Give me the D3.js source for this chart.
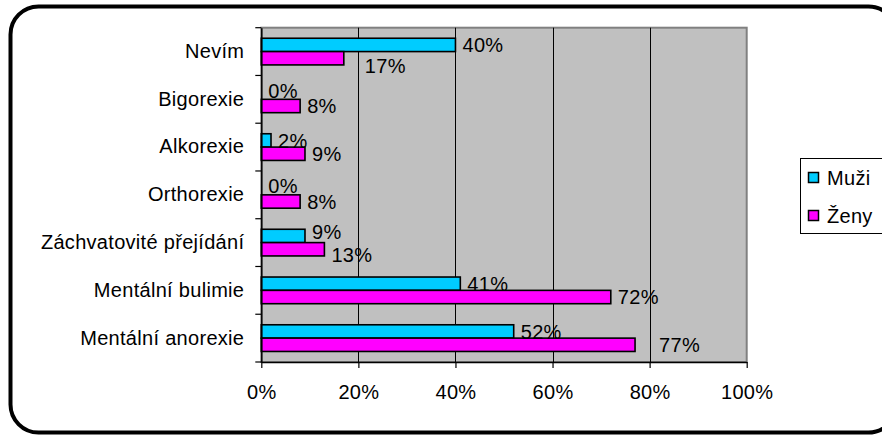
<!DOCTYPE html>
<html>
<head>
<meta charset="utf-8">
<script src="https://cdn.jsdelivr.net/npm/d3@7"></script>
<style>
  html, body { margin: 0; padding: 0; background: #fff; }
  svg { display: block; font-family: "Liberation Sans", Arial, sans-serif; }
</style>
</head>
<body>
<svg id="chart" width="882" height="436"></svg>
<script>
// Categories, top to bottom
const categories = [
  "Nevím",
  "Bigorexie",
  "Alkorexie",
  "Orthorexie",
  "Záchvatovité přejídání",
  "Mentální bulimie",
  "Mentální anorexie"
];
const seriesNames = ["Muži", "Ženy"];
const muzi = [40, 0, 2, 0, 9, 41, 52];
const zeny = [17, 8, 9, 8, 13, 72, 77];
const xTicks = [0, 20, 40, 60, 80, 100];

const colors = { "Muži": "#00CCFF", "Ženy": "#FF00FF" };
const seriesValues = { "Muži": muzi, "Ženy": zeny };

// Small label nudges (dx, dy) where labels sit off the default spot
const labelNudge = {
  "Nevím|Ženy": [14, 8],
  "Bigorexie|Muži": [0, -2],
  "Orthorexie|Muži": [0, -2],
  "Záchvatovité přejídání|Muži": [0, -4],
  "Záchvatovité přejídání|Ženy": [0, 6],
  "Mentální anorexie|Ženy": [17, 0]
};

const svg = d3.select("#chart");
const fontSize = 20;
const letterSp = 0.3;

// Outer rounded frame (extends past the right edge)
svg.append("rect")
  .attr("x", 10.5).attr("y", 6.5)
  .attr("width", 886).attr("height", 426)
  .attr("rx", 28).attr("ry", 28)
  .attr("fill", "#fff")
  .attr("stroke", "#000")
  .attr("stroke-width", 4);

const plot = { left: 261.3, right: 746.7, top: 27.7, bottom: 362 };

const x = d3.scaleLinear().domain([0, 100]).range([plot.left, plot.right]);
const y = d3.scaleBand().domain(categories).range([plot.top, plot.bottom]).padding(0);
const ySub = d3.scaleBand().domain(seriesNames).range([0, y.bandwidth()])
  .paddingInner(0).paddingOuter(0.79);

// Plot area background
svg.append("rect")
  .attr("x", plot.left).attr("y", plot.top)
  .attr("width", plot.right - plot.left).attr("height", plot.bottom - plot.top)
  .attr("fill", "#C0C0C0")
  .attr("stroke", "#808080")
  .attr("stroke-width", 2);

// Vertical gridlines
svg.append("g")
  .selectAll("line")
  .data(xTicks.filter(t => t > 0 && t < 100))
  .join("line")
  .attr("x1", d => Math.round(x(d)) + 0.5).attr("x2", d => Math.round(x(d)) + 0.5)
  .attr("y1", plot.top).attr("y2", plot.bottom)
  .attr("stroke", "#000").attr("stroke-width", 1);

// Bars
const rows = [];
categories.forEach((c, i) => {
  seriesNames.forEach(s => rows.push({ cat: c, series: s, value: seriesValues[s][i] }));
});

svg.append("g")
  .selectAll("rect")
  .data(rows.filter(d => d.value > 0))
  .join("rect")
  .attr("x", x(0))
  .attr("y", d => y(d.cat) + ySub(d.series))
  .attr("width", d => x(d.value) - x(0))
  .attr("height", ySub.bandwidth())
  .attr("fill", d => colors[d.series])
  .attr("stroke", "#000")
  .attr("stroke-width", 1.6);

// Value labels
svg.append("g")
  .selectAll("text")
  .data(rows)
  .join("text")
  .attr("x", d => x(d.value) + 7 + (labelNudge[d.cat + "|" + d.series] || [0, 0])[0])
  .attr("y", d => y(d.cat) + ySub(d.series) + ySub.bandwidth() / 2
                 + (labelNudge[d.cat + "|" + d.series] || [0, 0])[1])
  .attr("dy", "0.36em")
  .attr("font-size", fontSize)
  .attr("letter-spacing", letterSp)
  .attr("fill", "#000")
  .text(d => d.value + "%");

// Bottom axis
const xAxis = d3.axisBottom(x)
  .tickValues(xTicks)
  .tickFormat(d => d + "%")
  .tickSizeInner(6).tickSizeOuter(0)
  .tickPadding(17);
const gx = svg.append("g")
  .attr("transform", `translate(0,${plot.bottom})`)
  .call(xAxis);
gx.select(".domain").attr("stroke", "#000").attr("stroke-width", 1.5);
gx.selectAll(".tick line").attr("stroke", "#000").attr("stroke-width", 1.2);
gx.selectAll(".tick text")
  .attr("font-size", fontSize)
  .attr("letter-spacing", letterSp)
  .attr("font-family", "Liberation Sans, Arial, sans-serif")
  .attr("fill", "#000");

// Left axis: labels at band centres, ticks on band boundaries
const yAxis = d3.axisLeft(y).tickSize(0).tickPadding(17);
const gy = svg.append("g")
  .attr("transform", `translate(${plot.left},0)`)
  .call(yAxis);
gy.select(".domain").attr("stroke", "#000").attr("stroke-width", 1.5);
gy.selectAll(".tick text")
  .attr("font-size", fontSize)
  .attr("letter-spacing", letterSp)
  .attr("font-family", "Liberation Sans, Arial, sans-serif")
  .attr("fill", "#000");

const boundaries = categories.map(c => y(c)).concat([y.range()[1]]);
svg.append("g")
  .selectAll("line")
  .data(boundaries)
  .join("line")
  .attr("x1", plot.left - 6).attr("x2", plot.left)
  .attr("y1", d => d).attr("y2", d => d)
  .attr("stroke", "#000").attr("stroke-width", 1.2);

// Legend
const legend = svg.append("g");
legend.append("rect")
  .attr("x", 800.5).attr("y", 158.5)
  .attr("width", 100).attr("height", 75)
  .attr("fill", "#fff")
  .attr("stroke", "#000").attr("stroke-width", 1);

const legendRow = d3.scalePoint().domain(seriesNames).range([177.5, 215.5]);
seriesNames.forEach(s => {
  legend.append("rect")
    .attr("x", 808.5).attr("y", legendRow(s) - 5)
    .attr("width", 10).attr("height", 10)
    .attr("fill", colors[s])
    .attr("stroke", "#000").attr("stroke-width", 1.5);
  legend.append("text")
    .attr("x", 827).attr("y", legendRow(s))
    .attr("dy", "0.36em")
    .attr("font-size", fontSize)
    .attr("letter-spacing", letterSp)
    .attr("fill", "#000")
    .text(s);
});
</script>
</body>
</html>
